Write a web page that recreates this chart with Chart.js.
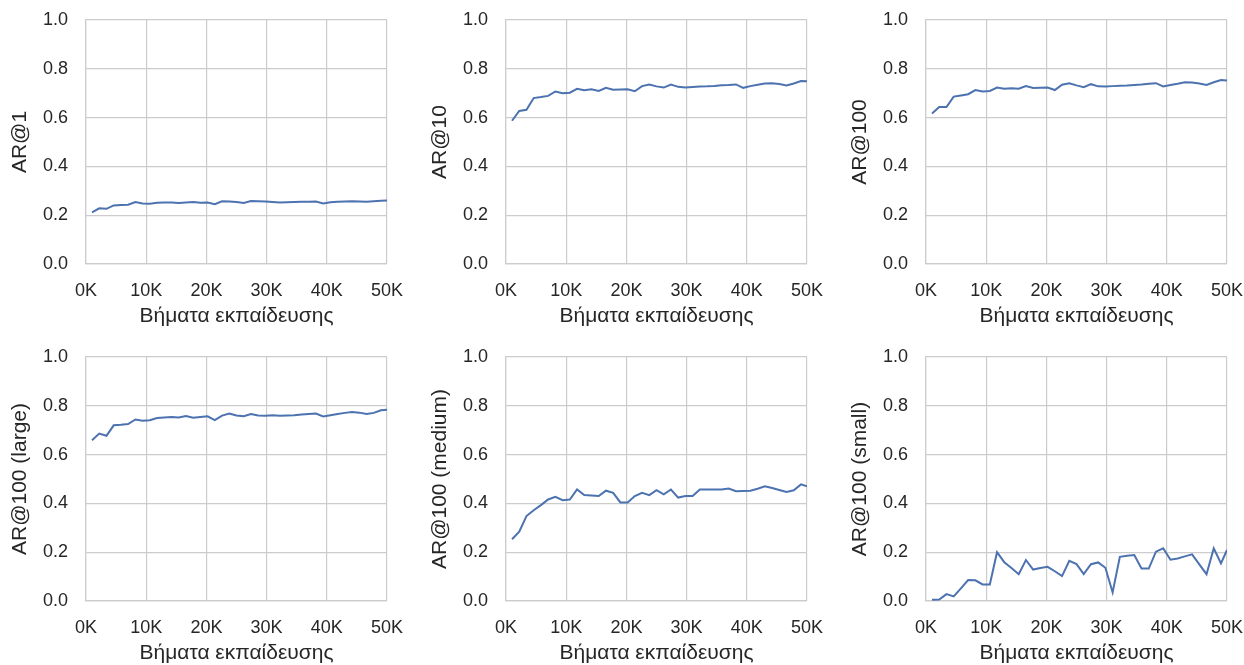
<!DOCTYPE html>
<html>
<head>
<meta charset="utf-8">
<script src="https://cdn.jsdelivr.net/npm/chart.js@4.4.0/dist/chart.umd.min.js"></script>
<style>
  html, body { margin: 0; padding: 0; background: #ffffff; }
  #wrap { position: relative; width: 1244px; height: 665px; overflow: hidden; }
  .cell { position: absolute; width: 420px; height: 329px; }
</style>
</head>
<body>
<div id="wrap"></div>
<script>
const STEPS = [1000, 2200, 3400, 4600, 5800, 7000, 8200, 9400, 10600, 11800, 13000, 14200, 15400, 16600,
  17800, 19000, 20200, 21400, 22600, 23800, 25000, 26200, 27400, 28600, 29800, 31000, 32200, 33400,
  34600, 35800, 37000, 38200, 39400, 40600, 41800, 43000, 44200, 45400, 46600, 47800, 49000, 50000];

const AR_1 = [0.212, 0.228, 0.226, 0.240, 0.242, 0.243, 0.254, 0.248, 0.247, 0.251, 0.252, 0.252, 0.250, 0.252,
  0.254, 0.251, 0.252, 0.245, 0.257, 0.256, 0.254, 0.250, 0.258, 0.257, 0.256, 0.254, 0.252, 0.253,
  0.254, 0.255, 0.255, 0.256, 0.248, 0.253, 0.255, 0.256, 0.257, 0.256, 0.255, 0.257, 0.259, 0.260];

const AR_10 = [0.587, 0.627, 0.632, 0.680, 0.684, 0.689, 0.707, 0.700, 0.702, 0.718, 0.712, 0.716, 0.709, 0.722,
  0.714, 0.715, 0.716, 0.708, 0.729, 0.736, 0.728, 0.723, 0.735, 0.726, 0.723, 0.725, 0.727, 0.728,
  0.730, 0.733, 0.734, 0.736, 0.722, 0.729, 0.735, 0.740, 0.741, 0.738, 0.732, 0.740, 0.750, 0.749];

const AR_100 = [0.617, 0.643, 0.643, 0.686, 0.691, 0.696, 0.713, 0.707, 0.709, 0.723, 0.718, 0.720, 0.718, 0.729,
  0.721, 0.722, 0.723, 0.713, 0.735, 0.741, 0.732, 0.725, 0.737, 0.728, 0.727, 0.729, 0.731, 0.732,
  0.734, 0.736, 0.739, 0.741, 0.728, 0.734, 0.739, 0.745, 0.744, 0.740, 0.734, 0.745, 0.754, 0.752];

const AR_100_LARGE = [0.659, 0.686, 0.677, 0.720, 0.722, 0.725, 0.744, 0.739, 0.741, 0.750, 0.752, 0.754, 0.752, 0.758,
  0.751, 0.754, 0.757, 0.741, 0.760, 0.768, 0.760, 0.757, 0.766, 0.760, 0.759, 0.761, 0.759, 0.760,
  0.761, 0.764, 0.766, 0.768, 0.756, 0.761, 0.766, 0.771, 0.775, 0.772, 0.766, 0.771, 0.782, 0.784];

const AR_100_MEDIUM = [0.253, 0.284, 0.348, 0.372, 0.393, 0.416, 0.427, 0.413, 0.416, 0.457, 0.434, 0.432, 0.430, 0.452,
  0.443, 0.404, 0.404, 0.430, 0.443, 0.434, 0.454, 0.437, 0.457, 0.424, 0.430, 0.430, 0.457, 0.457,
  0.457, 0.457, 0.461, 0.450, 0.451, 0.452, 0.460, 0.470, 0.463, 0.455, 0.447, 0.454, 0.478, 0.470];

const AR_100_SMALL = [0.005, 0.006, 0.028, 0.019, 0.052, 0.086, 0.085, 0.068, 0.068, 0.200, 0.159, 0.135, 0.110, 0.168,
  0.129, 0.135, 0.140, 0.122, 0.102, 0.165, 0.151, 0.110, 0.151, 0.158, 0.136, 0.035, 0.181, 0.185,
  0.188, 0.133, 0.133, 0.202, 0.216, 0.169, 0.174, 0.183, 0.191, 0.150, 0.110, 0.216, 0.154, 0.209];

const SERIES = [AR_1, AR_10, AR_100, AR_100_LARGE, AR_100_MEDIUM, AR_100_SMALL];
const Y_TITLES = ["AR@1", "AR@10", "AR@100", "AR@100 (large)", "AR@100 (medium)", "AR@100 (small)"];
const X_TITLE = "Βήματα εκπαίδευσης";
const X_TICKS = [0, 10000, 20000, 30000, 40000, 50000];
const Y_TICKS = [0, 0.2, 0.4, 0.6, 0.8, 1.0];

const FONT = "'Liberation Sans', Arial, sans-serif";
const TEXT = "#262626";
const GRID = "#cccccc";
const LINE = "#4c72b0";

const wrap = document.getElementById("wrap");
SERIES.forEach((vals, i) => {
  const col = i % 3, row = Math.floor(i / 3);
  const cell = document.createElement("div");
  cell.className = "cell";
  cell.style.left = (col * 420) + "px";
  cell.style.top = (row * 336.5) + "px";
  const cv = document.createElement("canvas");
  cv.width = 420; cv.height = 329;
  cv.style.width = "420px"; cv.style.height = "329px";
  cell.appendChild(cv);
  wrap.appendChild(cell);

  new Chart(cv.getContext("2d"), {
    type: "line",
    data: {
      datasets: [{
        data: STEPS.map((s, k) => ({ x: s, y: vals[k] })),
        borderColor: LINE,
        borderWidth: 2,
        pointRadius: 0,
        tension: 0,
        fill: false
      }]
    },
    options: {
      responsive: false,
      animation: false,
      devicePixelRatio: 1,
      layout: { padding: { top: 20, right: 33, left: 0, bottom: 0 } },
      plugins: { legend: { display: false }, tooltip: { enabled: false } },
      scales: {
        x: {
          type: "linear",
          min: 0, max: 50000,
          afterBuildTicks: (s) => { s.ticks = X_TICKS.map(v => ({ value: v })); },
          afterFit: (s) => { s.height = 65; s.paddingLeft = 0; s.paddingRight = 0; },
          ticks: {
            callback: (v) => (v / 1000) + "K",
            color: TEXT,
            font: { family: FONT, size: 18 },
            padding: 16,
            maxRotation: 0,
            autoSkip: false
          },
          grid: { color: GRID, lineWidth: 1.2, drawTicks: false },
          border: { display: true, color: GRID, width: 1.2 },
          title: {
            display: true, text: X_TITLE, color: TEXT,
            font: { family: FONT, size: 21 },
            padding: { top: 0, bottom: 0 }
          }
        },
        y: {
          min: 0, max: 1,
          afterBuildTicks: (s) => { s.ticks = Y_TICKS.map(v => ({ value: v })); },
          afterFit: (s) => { s.width = 86; s.paddingTop = 0; s.paddingBottom = 0; },
          ticks: {
            callback: (v) => Number(v).toFixed(1),
            color: TEXT,
            font: { family: FONT, size: 18 },
            padding: 18
          },
          grid: { color: GRID, lineWidth: 1.2, drawTicks: false },
          border: { display: true, color: GRID, width: 1.2 },
          title: {
            display: true, text: Y_TITLES[i], color: TEXT,
            font: { family: FONT, size: 21 },
            padding: { top: 8, bottom: 0 }
          }
        }
      }
    }
  });
});
</script>
</body>
</html>
